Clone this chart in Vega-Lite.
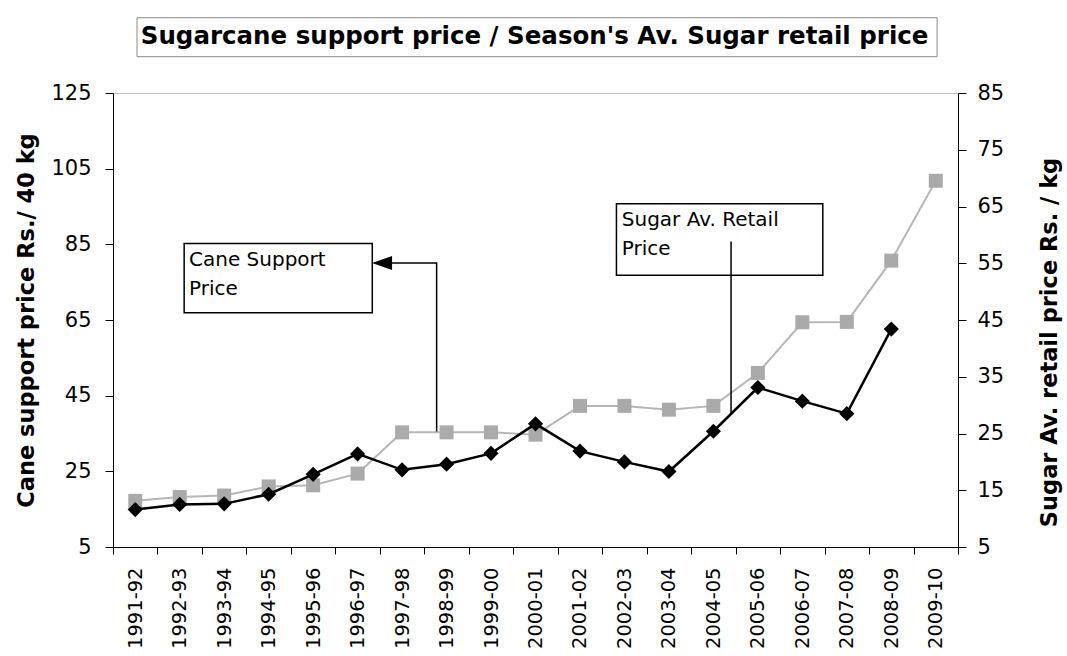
{
  "$schema": "https://vega.github.io/schema/vega-lite/v6.json",
  "width": 845,
  "height": 454,
  "autosize": "none",
  "padding": {"left": 113, "top": 93, "right": 109, "bottom": 109},
  "background": "white",
  "config": {"font": "DejaVu Sans", "view": {"stroke": "#c4c4c4", "strokeWidth": 1}},
  "datasets": {
    "series": [
      {"season": "1991-92", "cane": 17.2, "sugar": 11.6},
      {"season": "1992-93", "cane": 18.2, "sugar": 12.5},
      {"season": "1993-94", "cane": 18.6, "sugar": 12.6},
      {"season": "1994-95", "cane": 21.0, "sugar": 14.3},
      {"season": "1995-96", "cane": 21.3, "sugar": 17.8},
      {"season": "1996-97", "cane": 24.4, "sugar": 21.4},
      {"season": "1997-98", "cane": 35.3, "sugar": 18.6},
      {"season": "1998-99", "cane": 35.3, "sugar": 19.6},
      {"season": "1999-00", "cane": 35.3, "sugar": 21.5},
      {"season": "2000-01", "cane": 34.7, "sugar": 26.7},
      {"season": "2001-02", "cane": 42.3, "sugar": 21.9},
      {"season": "2002-03", "cane": 42.3, "sugar": 20.0},
      {"season": "2003-04", "cane": 41.3, "sugar": 18.3},
      {"season": "2004-05", "cane": 42.3, "sugar": 25.4},
      {"season": "2005-06", "cane": 51.0, "sugar": 33.1},
      {"season": "2006-07", "cane": 64.4, "sugar": 30.7},
      {"season": "2007-08", "cane": 64.5, "sugar": 28.5},
      {"season": "2008-09", "cane": 80.7, "sugar": 43.4},
      {"season": "2009-10", "cane": 101.8, "sugar": null}
    ],
    "titlebox": [{"u": 0.54, "u2": 18.53, "v": 134.6, "v2": 144.9}],
    "titletext": [{"u": 9.48, "v": 139.8, "label": "Sugarcane support price / Season's Av. Sugar retail price"}],
    "boxes": [
      {"u": 1.6, "u2": 5.83, "v": 66.9, "v2": 85.2},
      {"u": 11.32, "u2": 15.96, "v": 76.8, "v2": 95.75}
    ],
    "labels": [
      {"u": 1.71, "v": 79.4, "label": "Cane Support\nPrice"},
      {"u": 11.44, "v": 89.9, "label": "Sugar Av. Retail\nPrice"}
    ],
    "arrow": [
      {"u": 6.27, "v": 80.07, "o": 1},
      {"u": 7.277, "v": 80.07, "o": 2},
      {"u": 7.277, "v": 35.5, "o": 3}
    ],
    "head": [{"u": 6.05, "v": 80.07}],
    "pointer": [
      {"u": 13.897, "v": 85.78, "o": 1},
      {"u": 13.897, "v": 40.5, "o": 2}
    ]
  },
  "layer": [
    {
      "data": {"name": "series"},
      "encoding": {
        "x": {
          "field": "season",
          "type": "ordinal",
          "sort": null,
          "scale": {"type": "band", "paddingInner": 0, "paddingOuter": 0},
          "axis": {
            "title": null,
            "labelAngle": -90,
            "labelFont": "DejaVu Sans",
            "labelFontSize": 19.5,
            "labelColor": "black",
            "labelPadding": 13,
            "tickSize": 7,
            "tickColor": "black",
            "domainColor": "black",
            "tickBand": "extent",
            "grid": false
          }
        }
      },
      "layer": [
        {
          "encoding": {
            "y": {
              "field": "cane",
              "type": "quantitative",
              "scale": {"domain": [5, 125]},
              "axis": {
                "values": [5, 25, 45, 65, 85, 105, 125],
                "title": "Cane support price Rs./ 40 kg",
                "titleFont": "DejaVu Sans",
                "titleFontSize": 22.5,
                "titleFontWeight": "bold",
                "titleColor": "black",
                "titlePadding": 12,
                "labelFont": "DejaVu Sans",
                "labelFontSize": 21,
                "labelColor": "black",
                "labelPadding": 14,
                "tickSize": 8,
                "tickColor": "black",
                "domainColor": "black",
                "grid": false
              }
            }
          },
          "layer": [
            {"mark": {"type": "line", "color": "#b6b6b6", "strokeWidth": 2}},
            {"mark": {"type": "point", "shape": "square", "filled": true, "opacity": 1, "size": 196, "color": "#aaaaaa"}}
          ]
        },
        {
          "encoding": {
            "y": {
              "field": "sugar",
              "type": "quantitative",
              "scale": {"domain": [5, 85]},
              "axis": {
                "orient": "right",
                "values": [5, 15, 25, 35, 45, 55, 65, 75, 85],
                "title": "Sugar Av. retail price Rs. / kg",
                "titleAngle": 270,
                "titleY": 249,
                "titleFont": "DejaVu Sans",
                "titleFontSize": 22.5,
                "titleFontWeight": "bold",
                "titleColor": "black",
                "titlePadding": 58,
                "labelFont": "DejaVu Sans",
                "labelFontSize": 21,
                "labelColor": "black",
                "labelPadding": 11,
                "tickSize": 8,
                "tickColor": "black",
                "domainColor": "black",
                "grid": false
              }
            }
          },
          "layer": [
            {"mark": {"type": "line", "color": "black", "strokeWidth": 2.5}},
            {"mark": {"type": "point", "shape": "diamond", "filled": true, "opacity": 1, "size": 230, "color": "black"}}
          ]
        }
      ],
      "resolve": {"scale": {"y": "independent"}}
    },
    {
      "encoding": {
        "x": {"field": "u", "type": "quantitative", "scale": {"domain": [0, 19]}, "axis": null},
        "y": {"field": "v", "type": "quantitative", "scale": {"domain": [5, 125]}, "axis": null}
      },
      "layer": [
        {
          "data": {"name": "titlebox"},
          "mark": {"type": "rect", "fill": "white", "fillOpacity": 0, "stroke": "#8a8a8a", "strokeWidth": 1},
          "encoding": {"x2": {"field": "u2"}, "y2": {"field": "v2"}}
        },
        {
          "data": {"name": "titletext"},
          "mark": {"type": "text", "align": "center", "baseline": "middle", "font": "DejaVu Sans", "fontSize": 24.5, "fontWeight": "bold", "color": "black"},
          "encoding": {"text": {"field": "label"}}
        },
        {
          "data": {"name": "boxes"},
          "mark": {"type": "rect", "fill": "white", "stroke": "black", "strokeWidth": 1.5},
          "encoding": {"x2": {"field": "u2"}, "y2": {"field": "v2"}}
        },
        {
          "data": {"name": "labels"},
          "mark": {"type": "text", "align": "left", "baseline": "alphabetic", "font": "DejaVu Sans", "fontSize": 20, "lineHeight": 29, "lineBreak": "\n", "color": "black"},
          "encoding": {"text": {"field": "label"}}
        },
        {
          "data": {"name": "arrow"},
          "mark": {"type": "line", "color": "black", "strokeWidth": 1.5},
          "encoding": {"order": {"field": "o"}}
        },
        {
          "data": {"name": "head"},
          "mark": {"type": "point", "shape": "M -1 0 L 1 -0.7 L 1 0.7 Z", "size": 400, "filled": true, "opacity": 1, "color": "black"},
          "encoding": {}
        },
        {
          "data": {"name": "pointer"},
          "mark": {"type": "line", "color": "black", "strokeWidth": 1.5},
          "encoding": {"order": {"field": "o"}}
        }
      ]
    }
  ],
  "resolve": {"scale": {"x": "independent", "y": "independent"}}
}
